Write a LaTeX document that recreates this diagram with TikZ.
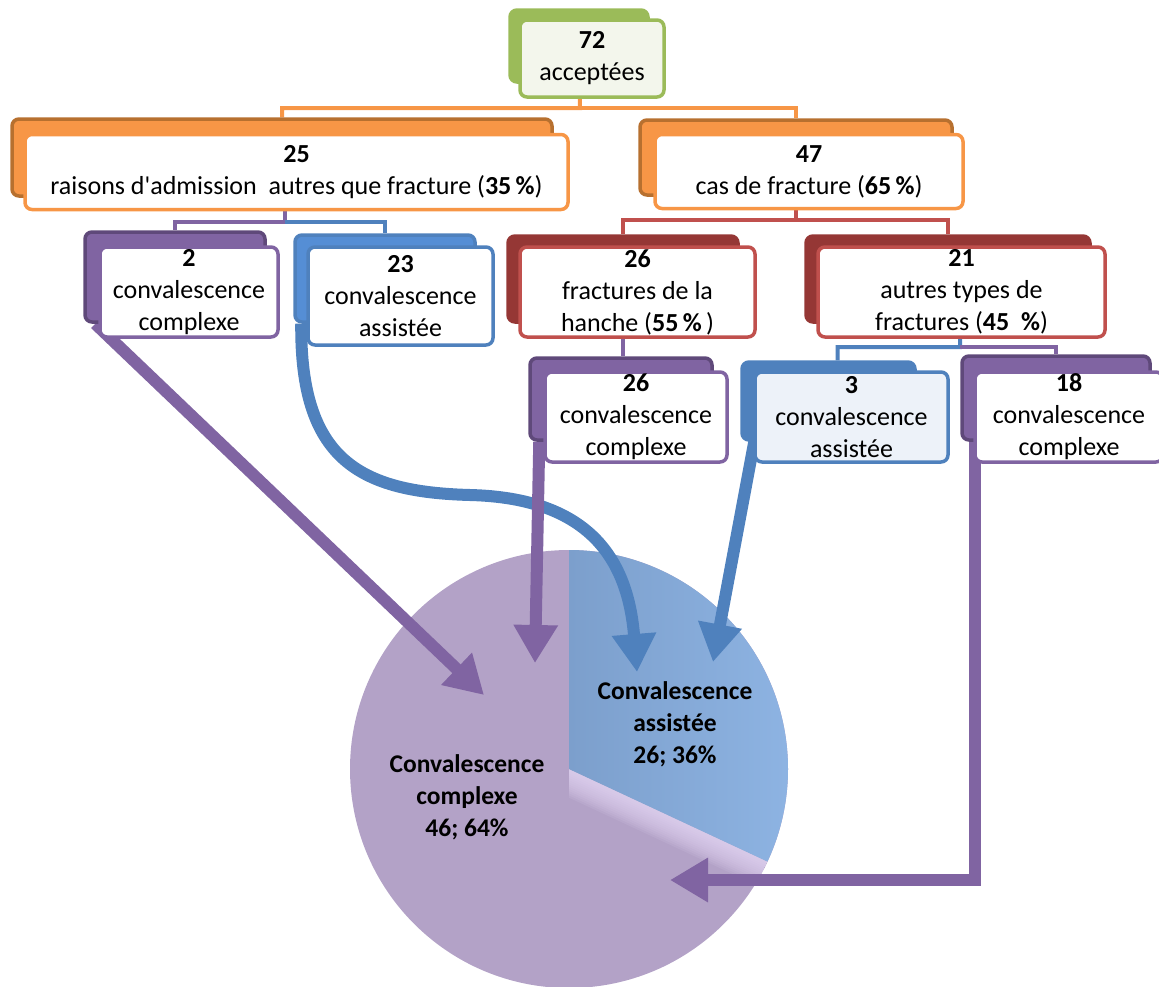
\documentclass[tikz,border=0pt]{standalone}
\usepackage{fontspec}
\setmainfont{Carlito}
\usetikzlibrary{arrows.meta,calc}

\definecolor{grn}{HTML}{9BBB59}
\definecolor{grnbg}{HTML}{F3F6EC}
\definecolor{org}{HTML}{F79646}
\definecolor{orgdk}{HTML}{B7702F}
\definecolor{pur}{HTML}{8064A2}
\definecolor{purdk}{HTML}{5F497A}
\definecolor{blu}{HTML}{4F81BD}
\definecolor{blult}{HTML}{558ED5}
\definecolor{bluebg}{HTML}{EDF2F9}
\definecolor{redc}{HTML}{C0504D}
\definecolor{reddk}{HTML}{953735}
\definecolor{piepur}{HTML}{B3A2C7}
\definecolor{pielt}{HTML}{E6D9F7}
\definecolor{pieblu}{HTML}{8EB4E3}
\definecolor{piebludk}{HTML}{7C9FCC}

\newcommand\boxfont{\fontsize{26}{32}\selectfont}
\newcommand\piefont{\fontsize{25.5}{32}\selectfont\bfseries}

\pgfdeclarelayer{bg}
\pgfdeclarelayer{mid}
\pgfsetlayers{bg,mid,main}

\tikzset{
  front/.style={draw=#1, fill=white, line width=3.5pt, rounded corners=7pt,
    align=center, inner sep=0pt, font=\boxfont},
  backbox/.style 2 args={draw=#2, fill=#1, line width=3.5pt, rounded corners=7pt, inner sep=0pt},
  link/.style={draw=#1, line width=4pt},
  fatarrow/.style={draw=#1, line width=12pt, -{Triangle[width=42pt,length=38pt]}},
  pielabel/.style={align=center, inner sep=0pt, font=\piefont}
}

\begin{document}
\begin{tikzpicture}[x=1pt,y=-1pt]
\useasboundingbox (0,0) rectangle (1159,986);

% ---------- pie chart ----------
\begin{pgfonlayer}{bg}
  \coordinate (pc) at (569,769);
  \coordinate (rim) at ($(pc)+(-25:219pt)$);
  \fill[piepur] (pc) circle (219pt);
  % soft highlight along the lower side of the slice boundary
  \begin{scope}
    \clip (pc) -- (rim) arc[start angle=-25, end angle=-90, radius=219pt] -- cycle;
    \foreach \w in {4,8,...,52}
      \draw[pielt, opacity=0.11, line width=\w pt] (pc) -- (rim);
  \end{scope}
  \shade[left color=piebludk, right color=pieblu]
    (pc) -- ++(90:219pt) arc[start angle=90, end angle=-25, radius=219pt] -- cycle;
\end{pgfonlayer}
\node[pielabel] (lcomp) at (467,797) {Convalescence\\complexe\\46; 64\%};
\node[pielabel] (lassi) at (675,724) {Convalescence\\assistée\\26; 36\%};

% ---------- level 0 ----------
\node[backbox={grn}{grn}, minimum width=138pt, minimum height=72pt] (n72b) at (579,46) {};
\node[front=grn, fill=grnbg, minimum width=144pt, minimum height=77pt] (n72) at (592,58.5)
  {\textbf{72}\\acceptées};

% ---------- level 1 ----------
\node[backbox={org}{orgdk}, minimum width=540pt, minimum height=77pt] (n25b) at (282,157.5) {};
\node[front=org, minimum width=543pt, minimum height=75pt] (n25) at (296.5,172)
  {\textbf{25}\\raisons d\textquotesingle admission\ \ autres que fracture (\textbf{35\,\%})};

\node[backbox={org}{orgdk}, minimum width=312pt, minimum height=75pt] (n47b) at (796,157.5) {};
\node[front=org, minimum width=308pt, minimum height=74pt] (n47) at (809,171.5)
  {\textbf{47}\\cas de fracture (\textbf{65\,\%})};

% ---------- level 2 ----------
\node[backbox={pur}{purdk}, minimum width=180pt, minimum height=90pt] (n2b) at (175,277) {};
\node[front=pur, minimum width=178pt, minimum height=90pt] (n2) at (189,292)
  {\textbf{2}\\convalescence\\complexe};

\node[backbox={blult}{blu}, minimum width=180pt, minimum height=87pt] (n23b) at (385,278.5) {};
\node[front=blu, minimum width=185pt, minimum height=98pt] (n23) at (400.5,296)
  {\textbf{23}\\convalescence\\assistée};

\node[backbox={reddk}{reddk}, minimum width=230pt, minimum height=86pt] (n26b) at (623,279) {};
\node[front=redc, minimum width=235pt, minimum height=90pt] (n26) at (637.5,292)
  {\textbf{26}\\fractures de la\\hanche (\textbf{55\,\%}\,)};

\node[backbox={reddk}{reddk}, minimum width=284pt, minimum height=86pt] (n21b) at (948,279) {};
\node[front=redc, minimum width=287pt, minimum height=90pt] (n21) at (961.5,292)
  {\textbf{21}\\autres types de\\fractures (\textbf{45\ \ \%})};

% ---------- level 3 ----------
\node[backbox={pur}{purdk}, minimum width=182pt, minimum height=82pt] (n26cb) at (621,399) {};
\node[front=pur, minimum width=182pt, minimum height=90pt] (n26c) at (636,417)
  {\textbf{26}\\convalescence\\complexe};

\node[backbox={blu}{blu}, minimum width=173pt, minimum height=78pt] (n3b) at (828.5,401) {};
\node[front=blu, fill=bluebg, minimum width=193pt, minimum height=90pt] (n3) at (851.5,417)
  {\textbf{3}\\convalescence\\assistée};

\node[backbox={pur}{purdk}, minimum width=188pt, minimum height=84pt] (n18b) at (1056,398) {};
\node[front=pur, minimum width=188pt, minimum height=90pt] (n18) at (1069,417)
  {\textbf{18}\\convalescence\\complexe};

% ---------- tree links and arrows ----------
\coordinate (j1) at (580,108);
\coordinate (j2) at (285,222);
\coordinate (j3) at (797,220);
\coordinate (j4) at (960,347);
\coordinate (t1) at (484,695);
\coordinate (t2) at (637,672);
\coordinate (t3) at (535,663);
\coordinate (t4) at (713,662);
\coordinate (c5) at (975,880);
\coordinate (t5) at (670,880);

\begin{pgfonlayer}{mid}
  \draw[link=org] (n72b) -- (j1) -| (n25b);
  \draw[link=org] (j1) -| (n47b);

  \draw[link=pur] (j2 |- n25.south) -- (j2) -| (n2b);
  \draw[link=blu] (j2) -| (n23b);

  \draw[link=redc] (n47b) -- (n47b |- j3) -| (n26b);
  \draw[link=redc] (n47b |- j3) -| (n21b);

  \draw[link=pur] (n26b) -- (n26b |- n26cb.north);

  \draw[link=blu] (n21) -- (j4) -| ([xshift=9pt]n3b.north);
  \draw[link=pur] (j4) -| (n18b);

  \draw[fatarrow=pur] ([xshift=12pt]n2b.south west) -- (t1);
  \draw[fatarrow=blu] ([xshift=8pt]n23b.south west)
    .. controls (300,460) and (360,492) .. (470,495)
    .. controls (590,498) and (628,560) .. (t2);
  \draw[fatarrow=pur] ([xshift=11pt]n26cb.south west) -- (t3);
  \draw[fatarrow=blu] ([xshift=14pt]n3b.south west) -- (t4);
  \draw[fatarrow=pur, line join=miter] (n18b.south west -| c5) -- (c5) -- (t5);
\end{pgfonlayer}
\end{tikzpicture}
\end{document}
